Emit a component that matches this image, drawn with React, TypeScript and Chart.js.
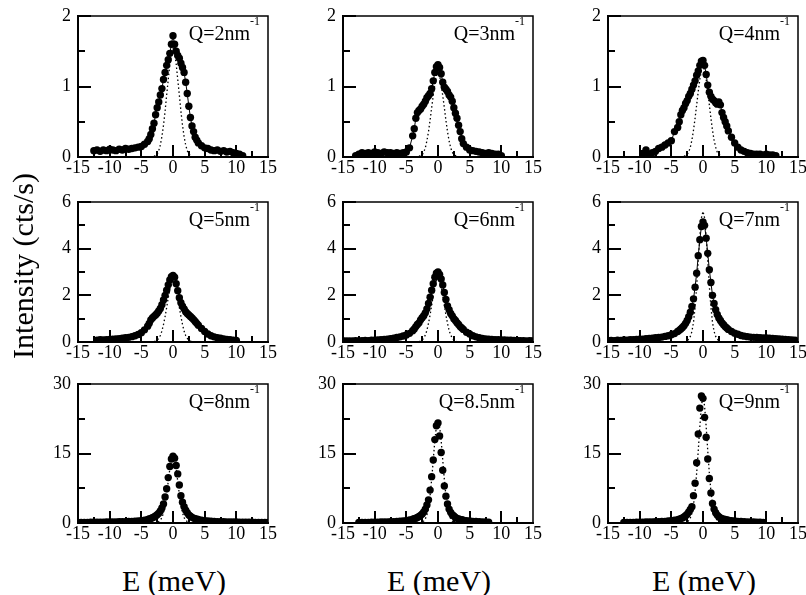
import React, { useEffect, useRef } from 'react';
import { Chart, registerables } from 'chart.js';

Chart.register(...registerables);

// ---------- shared axes / categories ----------
const energy = [
  -15, -14.5, -14, -13.5, -13, -12.5, -12, -11.5, -11, -10.5, -10, -9.5, -9, -8.5, -8, -7.5, -7, -6.5, -6, -5.5, -5, -4.5, -4,
  -3.75, -3.5, -3.25, -3, -2.75, -2.5, -2.25, -2, -1.75, -1.5, -1.25, -1, -0.75, -0.5, -0.25, 0, 0.25, 0.5, 0.75, 1, 1.25, 1.5, 1.75, 2, 2.25, 2.5, 2.75, 3, 3.25, 3.5, 3.75,
  4, 4.5, 5, 5.5, 6, 6.5, 7, 7.5, 8, 8.5, 9, 9.5, 10, 10.5, 11, 11.5, 12, 12.5, 13, 13.5, 14, 14.5, 15,
];
const resEnergy = [-3, -2.75, -2.5, -2.25, -2, -1.75, -1.5, -1.25, -1, -0.75, -0.5, -0.25, 0, 0.25, 0.5, 0.75, 1, 1.25, 1.5, 1.75, 2, 2.25, 2.5, 2.75, 3];

const xTickValues = [-15, -10, -5, 0, 5, 10, 15];
const xMajorMarks = [-10, -5, 0, 5, 10];
const xMinorMarks = [-12.5, -7.5, -2.5, 2.5, 7.5, 12.5];
const row1Ticks = [0, 1, 2];
const row1Minor = [0.5, 1.5];
const row2Ticks = [0, 2, 4, 6];
const row2Minor = [1, 3, 5];
const row3Ticks = [0, 15, 30];
const row3Minor = [7.5, 22.5];
const qLabels = ['2', '3', '4', '5', '6', '7', '8', '8.5', '9'];

// ---------- measured intensities (cts/s) ----------
const q2Data = [
  null, null, null, null, null, 0.09, 0.1, 0.08, 0.1, 0.09, 0.11, 0.1, 0.09, 0.11, 0.1, 0.12, 0.11, 0.12, 0.13, 0.14, 0.15, 0.18, 0.22,
  0.26, 0.32, 0.4, 0.48, 0.6, 0.7, 0.78, 0.88, 0.97, 1.1, 1.2, 1.3, 1.38, 1.47, 1.6, 1.72, 1.6, 1.5, 1.44, 1.4, 1.33, 1.27, 1.2, 1.06, 0.9, 0.72, 0.56, 0.44, 0.36, 0.28, 0.24,
  0.2, 0.16, 0.13, 0.12, 0.1, 0.09, 0.1, 0.08, 0.09, 0.07, 0.08, 0.06, 0.05, 0.04, 0.02, null, null, null, null, null, null, null, null,
];
const q3Data = [
  null, null, null, null, 0.02, 0.04, 0.06, 0.05, 0.06, 0.05, 0.07, 0.06, 0.05, 0.07, 0.06, 0.06, 0.05, 0.06, 0.05, 0.06, 0.07, 0.13, 0.3,
  0.4, 0.55, 0.63, 0.66, 0.68, 0.72, 0.75, 0.79, 0.84, 0.87, 0.9, 0.97, 1.08, 1.2, 1.28, 1.31, 1.27, 1.18, 1.06, 0.99, 0.96, 0.93, 0.88, 0.85, 0.79, 0.7, 0.62, 0.55, 0.45, 0.36, 0.26,
  0.19, 0.14, 0.1, 0.09, 0.08, 0.07, 0.06, 0.05, 0.06, 0.05, 0.04, 0.04, 0.02, null, null, null, null, null, null, null, null, null, null,
];
const q4Data = [
  null, null, null, null, null, null, null, null, null, null, null, 0.05, 0.1, 0.04, 0.06, 0.08, 0.12, 0.14, 0.17, 0.2, 0.23, 0.36, 0.42,
  0.5, 0.6, 0.66, 0.7, 0.76, 0.8, 0.86, 0.9, 0.96, 1.02, 1.08, 1.16, 1.22, 1.3, 1.36, 1.37, 1.3, 1.17, 1.02, 0.92, 0.86, 0.82, 0.8, 0.77, 0.75, 0.78, 0.74, 0.63, 0.56, 0.5, 0.44,
  0.37, 0.28, 0.2, 0.14, 0.1, 0.08, 0.06, 0.05, 0.04, 0.04, 0.04, 0.03, 0.04, 0.03, 0.03, 0.02, null, null, null, null, null, null, null,
];
const q5Data = [
  null, null, null, null, null, null, 0.08, 0.1, 0.09, 0.1, 0.11, 0.12, 0.13, 0.14, 0.16, 0.18, 0.2, 0.23, 0.27, 0.32, 0.4, 0.52, 0.68,
  0.8, 0.95, 1.03, 1.1, 1.16, 1.23, 1.33, 1.44, 1.6, 1.8, 2.0, 2.22, 2.45, 2.66, 2.8, 2.85, 2.78, 2.5, 2.2, 1.9, 1.68, 1.53, 1.42, 1.3, 1.22, 1.16, 1.09, 1.03, 0.96, 0.88, 0.8,
  0.72, 0.58, 0.45, 0.34, 0.27, 0.22, 0.18, 0.16, 0.13, 0.11, 0.1, 0.08, 0.07, null, null, null, null, null, null, null, null, null, null,
];
const q6Data = [
  0.04, 0.05, 0.04, 0.05, 0.06, 0.05, 0.06, 0.07, 0.06, 0.08, 0.08, 0.09, 0.1, 0.11, 0.12, 0.14, 0.16, 0.19, 0.22, 0.26, 0.3, 0.37, 0.48,
  0.56, 0.66, 0.75, 0.82, 0.95, 1.04, 1.13, 1.25, 1.42, 1.65, 1.92, 2.22, 2.5, 2.78, 2.95, 3.0, 2.9, 2.7, 2.44, 2.12, 1.82, 1.55, 1.38, 1.22, 1.12, 1.0, 0.92, 0.83, 0.75, 0.66, 0.6,
  0.54, 0.42, 0.34, 0.27, 0.22, 0.18, 0.15, 0.13, 0.12, 0.11, 0.1, 0.1, 0.09, 0.09, 0.08, 0.08, 0.07, 0.07, 0.06, 0.06, 0.05, 0.06, 0.05,
];
const q7Data = [
  0.06, 0.07, 0.06, 0.08, 0.07, 0.09, 0.08, 0.1, 0.1, 0.11, 0.12, 0.12, 0.14, 0.15, 0.16, 0.18, 0.19, 0.21, 0.24, 0.27, 0.31, 0.36, 0.45,
  0.5, 0.56, 0.62, 0.7, 0.8, 0.92, 1.08, 1.28, 1.52, 1.85, 2.35, 2.95, 3.7, 4.38, 4.95, 5.15, 5.0, 4.45, 3.8, 3.1, 2.55, 2.0, 1.65, 1.38, 1.18, 1.03, 0.92, 0.82, 0.74, 0.66, 0.6,
  0.54, 0.45, 0.38, 0.33, 0.28, 0.25, 0.23, 0.21, 0.2, 0.19, 0.18, 0.17, 0.17, 0.16, 0.15, 0.14, 0.13, 0.12, 0.11, 0.1, 0.09, 0.08, null,
];
const q8Data = [
  0.12, 0.12, 0.14, 0.14, 0.15, 0.16, 0.16, 0.18, 0.18, 0.2, 0.2, 0.22, 0.24, 0.26, 0.28, 0.3, 0.33, 0.36, 0.4, 0.45, 0.52, 0.62, 0.76,
  0.86, 0.98, 1.12, 1.3, 1.5, 1.78, 2.1, 2.6, 3.25, 4.1, 5.6, 7.4, 9.8, 12.2, 13.8, 14.4, 14.0, 12.4, 10.6, 8.2, 5.9, 4.5, 3.5, 2.75, 2.2, 1.75, 1.45, 1.22, 1.06, 0.94, 0.84,
  0.74, 0.6, 0.5, 0.43, 0.38, 0.34, 0.3, 0.28, 0.26, 0.24, 0.22, 0.21, 0.2, 0.19, 0.18, 0.17, 0.16, 0.15, 0.14, 0.14, 0.13, 0.12, 0.12,
];
const q85Data = [
  null, null, null, null, null, 0.1, 0.12, 0.13, 0.14, 0.16, 0.17, 0.18, 0.2, 0.22, 0.24, 0.27, 0.3, 0.34, 0.38, 0.44, 0.52, 0.64, 0.8,
  0.92, 1.05, 1.2, 1.4, 1.65, 1.95, 2.4, 3.0, 3.9, 5.0, 7.1, 10.0, 13.6, 18.0, 21.0, 21.6, 18.8, 15.2, 11.4, 8.0, 5.8, 4.1, 3.0, 2.3, 1.8, 1.5, 1.2, 1.0, 0.88, 0.78, 0.7,
  0.62, 0.5, 0.42, 0.36, 0.31, 0.27, 0.24, 0.2, 0.15, null, null, null, null, null, null, null, null, null, null, null, null, null, null,
];
const q9Data = [
  null, null, null, null, null, 0.1, 0.12, 0.12, 0.14, 0.15, 0.16, 0.18, 0.2, 0.22, 0.24, 0.26, 0.29, 0.32, 0.36, 0.42, 0.48, 0.58, 0.72,
  0.82, 0.95, 1.1, 1.3, 1.55, 1.9, 2.4, 2.9, 3.5, 5.9, 8.6, 13.0, 19.2, 24.8, 27.4, 26.9, 22.8, 18.5, 13.8, 9.6, 6.5, 4.2, 3.0, 2.2, 1.7, 1.35, 1.1, 0.95, 0.84, 0.75, 0.68,
  0.6, 0.5, 0.42, 0.36, 0.32, 0.28, 0.25, 0.22, 0.2, 0.18, 0.16, 0.14, null, null, null, null, null, null, null, null, null, null, null,
];

// ---------- resolution function (dotted) ----------
const q2Res = [0.01, 0.02, 0.04, 0.09, 0.17, 0.29, 0.45, 0.65, 0.88, 1.1, 1.32, 1.48, 1.55, 1.48, 1.32, 1.1, 0.88, 0.65, 0.45, 0.29, 0.17, 0.09, 0.04, 0.02, 0.01];
const q3Res = [0.01, 0.02, 0.03, 0.07, 0.13, 0.23, 0.36, 0.52, 0.7, 0.87, 1.03, 1.16, 1.22, 1.16, 1.03, 0.87, 0.7, 0.52, 0.36, 0.23, 0.13, 0.07, 0.03, 0.02, 0.01];
const q4Res = [0.01, 0.02, 0.04, 0.07, 0.14, 0.24, 0.38, 0.55, 0.74, 0.93, 1.1, 1.23, 1.29, 1.23, 1.1, 0.93, 0.74, 0.55, 0.38, 0.24, 0.14, 0.07, 0.04, 0.02, 0.01];
const q5Res = [0.02, 0.04, 0.08, 0.16, 0.28, 0.47, 0.75, 1.09, 1.48, 1.9, 2.26, 2.51, 2.6, 2.51, 2.26, 1.9, 1.48, 1.09, 0.75, 0.47, 0.28, 0.16, 0.08, 0.04, 0.02];
const q6Res = [0.02, 0.04, 0.08, 0.17, 0.3, 0.5, 0.8, 1.16, 1.57, 2.0, 2.39, 2.66, 2.75, 2.66, 2.39, 2.0, 1.57, 1.16, 0.8, 0.5, 0.3, 0.17, 0.08, 0.04, 0.02];
const q7Res = [0.01, 0.02, 0.06, 0.12, 0.24, 0.45, 0.84, 1.5, 2.4, 3.47, 4.54, 5.32, 5.6, 5.32, 4.54, 3.47, 2.4, 1.5, 0.84, 0.45, 0.24, 0.12, 0.06, 0.02, 0.01];
const q8Res = [0.03, 0.06, 0.15, 0.3, 0.6, 1.15, 2.2, 3.9, 6.2, 9.0, 11.7, 13.8, 14.5, 13.8, 11.7, 9.0, 6.2, 3.9, 2.2, 1.15, 0.6, 0.3, 0.15, 0.06, 0.03];
const q85Res = [0.04, 0.1, 0.22, 0.45, 0.9, 1.75, 3.3, 5.9, 9.4, 13.6, 17.8, 20.9, 22.0, 20.9, 17.8, 13.6, 9.4, 5.9, 3.3, 1.75, 0.9, 0.45, 0.22, 0.1, 0.04];
const q9Res = [0.04, 0.1, 0.25, 0.55, 1.1, 2.1, 3.9, 6.8, 10.8, 15.6, 20.8, 25.2, 27.5, 25.2, 20.8, 15.6, 10.8, 6.8, 3.9, 2.1, 1.1, 0.55, 0.25, 0.1, 0.04];

const panelData = [q2Data, q3Data, q4Data, q5Data, q6Data, q7Data, q8Data, q85Data, q9Data];
const panelRes = [q2Res, q3Res, q4Res, q5Res, q6Res, q7Res, q8Res, q85Res, q9Res];
const rowTicks = [row1Ticks, row2Ticks, row3Ticks];
const rowMinor = [row1Minor, row2Minor, row3Minor];

// ---------- layout ----------
const PAGE_W = 806;
const PAGE_H = 595;
const colLeft = [78, 343, 608];
const plotW = 190;
const rowTop = [16, 202, 384];
const rowH = [141, 140, 139];
const FONT = "'Liberation Serif', 'DejaVu Serif', 'Noto Serif', serif";
const AXW = 45;
const PADT = 14;
const XAXH = 26;

function toPoints(xs: number[], ys: (number | null)[]) {
  const out: { x: number; y: number }[] = [];
  xs.forEach((x, i) => {
    const y = ys[i];
    if (y !== null && y !== undefined) out.push({ x, y });
  });
  return out;
}

function Panel({ idx }: { idx: number }) {
  const ref = useRef<HTMLCanvasElement>(null);
  const row = Math.floor(idx / 3);
  const col = idx % 3;
  const left = colLeft[col];
  const top = rowTop[row];
  const h = rowH[row];
  const padR = col === 2 ? PAGE_W - (left + plotW) : 12;
  const cw = AXW + plotW + padR;
  const ch = PADT + h + XAXH;
  const yTicks = rowTicks[row];
  const yMinor = rowMinor[row];
  const yMax = yTicks[yTicks.length - 1];

  useEffect(() => {
    const framePlugin = {
      id: 'frameTicks',
      afterDatasetsDraw(chart: any) {
        const { ctx, chartArea: a, scales } = chart;
        const xs = scales.x;
        const ys = scales.y;
        ctx.save();
        ctx.strokeStyle = '#000';
        ctx.lineCap = 'butt';
        ctx.lineWidth = 2;
        ctx.beginPath();
        xMajorMarks.forEach((v) => {
          const p = Math.round(xs.getPixelForValue(v));
          ctx.moveTo(p, a.bottom);
          ctx.lineTo(p, a.bottom - 12);
        });
        xMinorMarks.forEach((v) => {
          const p = Math.round(xs.getPixelForValue(v));
          ctx.moveTo(p, a.bottom);
          ctx.lineTo(p, a.bottom - 6);
        });
        yTicks.forEach((v) => {
          const p = Math.round(ys.getPixelForValue(v));
          ctx.moveTo(a.left, p);
          ctx.lineTo(a.left + 13, p);
        });
        yMinor.forEach((v) => {
          const p = Math.round(ys.getPixelForValue(v));
          ctx.moveTo(a.left, p);
          ctx.lineTo(a.left + 7, p);
        });
        ctx.stroke();
        ctx.lineWidth = 1.5;
        ctx.beginPath();
        ctx.moveTo(a.left, a.top);
        ctx.lineTo(a.right, a.top);
        ctx.lineTo(a.right, a.bottom);
        ctx.stroke();
        ctx.lineWidth = 2;
        ctx.beginPath();
        ctx.moveTo(a.left, a.top - 1);
        ctx.lineTo(a.left, a.bottom);
        ctx.lineTo(a.right + 1, a.bottom);
        ctx.stroke();
        ctx.restore();
      },
    };

    const chart = new Chart(ref.current as HTMLCanvasElement, {
      type: 'scatter',
      data: {
        datasets: [
          {
            label: 'resolution',
            data: toPoints(resEnergy, panelRes[idx]),
            showLine: true,
            borderColor: '#000',
            borderWidth: 1.3,
            borderDash: [1.5, 2.5],
            pointRadius: 0,
            fill: false,
          },
          {
            label: 'data',
            data: toPoints(energy, panelData[idx]),
            showLine: row < 2,
            borderColor: '#000',
            borderWidth: 1,
            pointRadius: 3.7,
            pointBackgroundColor: '#000',
            pointBorderColor: '#000',
            pointBorderWidth: 0,
            fill: false,
          },
        ],
      },
      options: {
        responsive: false,
        animation: false,
        events: [],
        layout: { padding: { left: 0, top: PADT, right: padR, bottom: 0 } },
        plugins: {
          legend: { display: false },
          tooltip: { enabled: false },
          title: { display: false },
        },
        scales: {
          x: {
            type: 'linear',
            min: -15,
            max: 15,
            afterBuildTicks: (s: any) => {
              s.ticks = xTickValues.map((v) => ({ value: v }));
            },
            afterFit: (s: any) => {
              s.height = XAXH;
              s.paddingLeft = 0;
              s.paddingRight = 0;
            },
            grid: { display: false, drawTicks: false, tickLength: 0 },
            border: { display: false },
            ticks: {
              autoSkip: false,
              maxRotation: 0,
              minRotation: 0,
              padding: 0,
              color: '#000',
              font: { family: FONT, size: 18 },
            },
          },
          y: {
            type: 'linear',
            min: 0,
            max: yMax,
            afterBuildTicks: (s: any) => {
              s.ticks = yTicks.map((v) => ({ value: v }));
            },
            afterFit: (s: any) => {
              s.width = AXW;
              s.paddingTop = 0;
              s.paddingBottom = 0;
            },
            grid: { display: false, drawTicks: false, tickLength: 0 },
            border: { display: false },
            ticks: {
              padding: 7,
              color: '#000',
              font: { family: FONT, size: 18 },
            },
          },
        },
      } as any,
      plugins: [framePlugin],
    });
    return () => chart.destroy();
  }, [idx]);

  return (
    <canvas
      ref={ref}
      width={cw}
      height={ch}
      style={{ position: 'absolute', left: left - AXW, top: top - PADT, width: cw, height: ch }}
    />
  );
}

function QLabel({ idx }: { idx: number }) {
  const row = Math.floor(idx / 3);
  const col = idx % 3;
  const right = colLeft[col] + plotW - 8;
  return (
    <div
      style={{
        position: 'absolute',
        right: PAGE_W - right,
        top: rowTop[row] + 7,
        fontFamily: FONT,
        fontSize: 20,
        lineHeight: '20px',
        whiteSpace: 'nowrap',
        color: '#000',
      }}
    >
      Q={qLabels[idx]}nm
      <span style={{ fontSize: 12, position: 'relative', top: -15 }}>-1</span>
    </div>
  );
}

export default function App() {
  const idxs = [0, 1, 2, 3, 4, 5, 6, 7, 8];
  return (
    <div
      style={{
        position: 'absolute',
        left: 0,
        top: 0,
        width: PAGE_W,
        height: PAGE_H,
        overflow: 'hidden',
        background: '#fff',
      }}
    >
      {idxs.map((i) => (
        <Panel key={'p' + i} idx={i} />
      ))}
      {idxs.map((i) => (
        <QLabel key={'q' + i} idx={i} />
      ))}
      <div
        style={{
          position: 'absolute',
          left: 23 - 150,
          top: 266 - 15,
          width: 300,
          height: 30,
          lineHeight: '30px',
          fontSize: 30,
          fontFamily: FONT,
          textAlign: 'center',
          transform: 'rotate(-90deg)',
          transformOrigin: '50% 50%',
          whiteSpace: 'nowrap',
          color: '#000',
        }}
      >
        Intensity (cts/s)
      </div>
      {colLeft.map((l, c) => (
        <div
          key={'e' + c}
          style={{
            position: 'absolute',
            left: l + plotW / 2 + 1 - 100,
            top: 566,
            width: 200,
            lineHeight: '30px',
            fontSize: 30,
            fontFamily: FONT,
            textAlign: 'center',
            whiteSpace: 'nowrap',
            color: '#000',
          }}
        >
          E (meV)
        </div>
      ))}
    </div>
  );
}
